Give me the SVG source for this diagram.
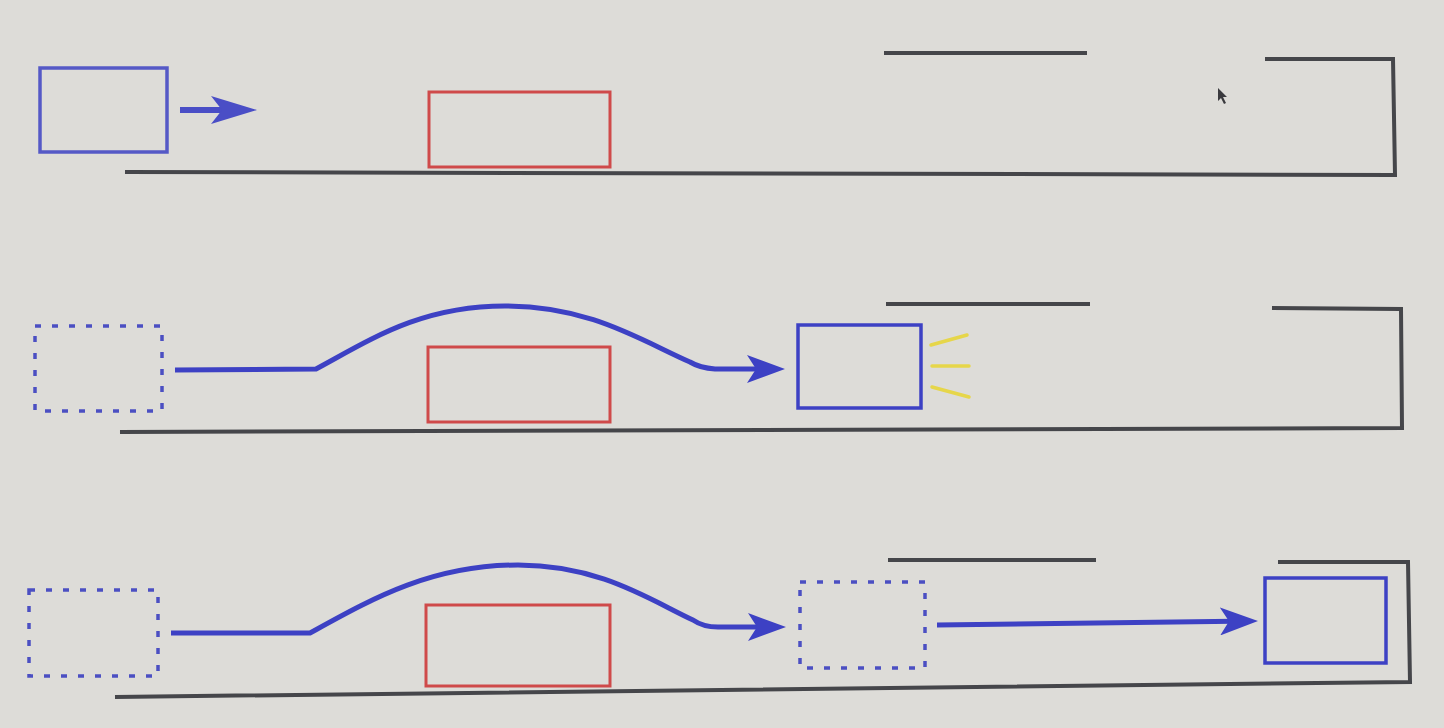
<svg xmlns="http://www.w3.org/2000/svg" width="1444" height="728" viewBox="0 0 1444 728">
<defs>
<style>
.bg{fill:#dddcd8}
.wall{fill:none;stroke:#45464a;stroke-width:4;stroke-linecap:butt}
.car{fill:none;stroke:#3d41c4;stroke-width:3.5}
.car1{fill:none;stroke:#5559c6;stroke-width:3.5}
.ghost{fill:none;stroke:#4b4fc2;stroke-width:3.5;stroke-dasharray:6 11}
.obst{fill:none;stroke:#cf4a4a;stroke-width:3}
.path{fill:none;stroke:#3d41c4;stroke-width:5;stroke-linejoin:round}
.path1{fill:none;stroke:#4a4ec6;stroke-width:6}
.spark{stroke:#e6d64a;stroke-width:3.5;stroke-linecap:round}
</style>
<marker id="ah" markerUnits="userSpaceOnUse" viewBox="0 0 38 28" markerWidth="38" markerHeight="28" refX="14" refY="14" orient="auto">
<path d="M0,0 L38,14 L0,28 L9,14 z" fill="#3d41c4"/>
</marker>
<marker id="ah1" markerUnits="userSpaceOnUse" viewBox="0 0 46 28" markerWidth="46" markerHeight="28" refX="18" refY="14" orient="auto">
<path d="M0,0 L46,14 L0,28 L11,14 z" fill="#4a4ec6"/>
</marker>
</defs>
<rect class="bg" x="0" y="0" width="1444" height="728"/>

<g id="scene1">
<g id="s1-car"><rect class="car1" x="40" y="68" width="127" height="84"/></g>
<g id="s1-obstacle"><rect class="obst" x="429" y="92" width="181" height="75"/></g>
<g id="s1-walls">
<path class="wall" d="M125,172 L1395,175 L1393,59 L1265,59"/>
<path class="wall" d="M884,53 L1087,53"/>
</g>
<g id="s1-cursor"><path d="M1218,88 L1218,101 L1221,98 L1224,104 L1226,103 L1223,97 L1227,97 z" fill="#3a3a3e"/></g>
</g>

<g id="scene2">
<g id="s2-ghost"><rect class="ghost" x="35" y="326" width="127" height="85"/></g>
<g id="s2-obstacle"><rect class="obst" x="428" y="347" width="182" height="75"/></g>
<g id="s2-car"><rect class="car" x="798" y="325" width="123" height="83"/></g>
<g id="s2-sparks">
<line class="spark" x1="931" y1="345" x2="967" y2="335"/>
<line class="spark" x1="932" y1="366" x2="969" y2="366"/>
<line class="spark" x1="932" y1="387" x2="969" y2="397"/>
</g>
<g id="s2-walls">
<path class="wall" d="M120,432 L1402,428 L1401,309 L1272,308"/>
<path class="wall" d="M886,304 L1090,304"/>
</g>
</g>

<g id="scene3">
<g id="s3-ghost"><rect class="ghost" x="29" y="590" width="129" height="86"/></g>
<g id="s3-obstacle"><rect class="obst" x="426" y="605" width="184" height="81"/></g>
<g id="s3-ghost2"><rect class="ghost" x="800" y="582" width="125" height="86"/></g>
<g id="s3-car"><rect class="car" x="1265" y="578" width="121" height="85"/></g>
<g id="s3-walls">
<path class="wall" d="M115,697 L1410,682 L1408,562 L1278,562"/>
<path class="wall" d="M888,560 L1096,560"/>
</g>
</g>

<g id="connectors">
<line class="path1" x1="180" y1="110" x2="229" y2="110" marker-end="url(#ah1)"/>
<path class="path" d="M175,370 L316,369 C370,340 420,306 505,306 C590,306 640,340 690,362 Q700,368 715,369 L761,369" marker-end="url(#ah)"/>
<path class="path" d="M171,633 L310,633 C370,600 430,565 518,565 C600,565 650,600 693,620 Q703,627 718,627 L762,627" marker-end="url(#ah)"/>
<line class="path" x1="937" y1="625" x2="1234" y2="621.3" marker-end="url(#ah)"/>
</g>
</svg>
